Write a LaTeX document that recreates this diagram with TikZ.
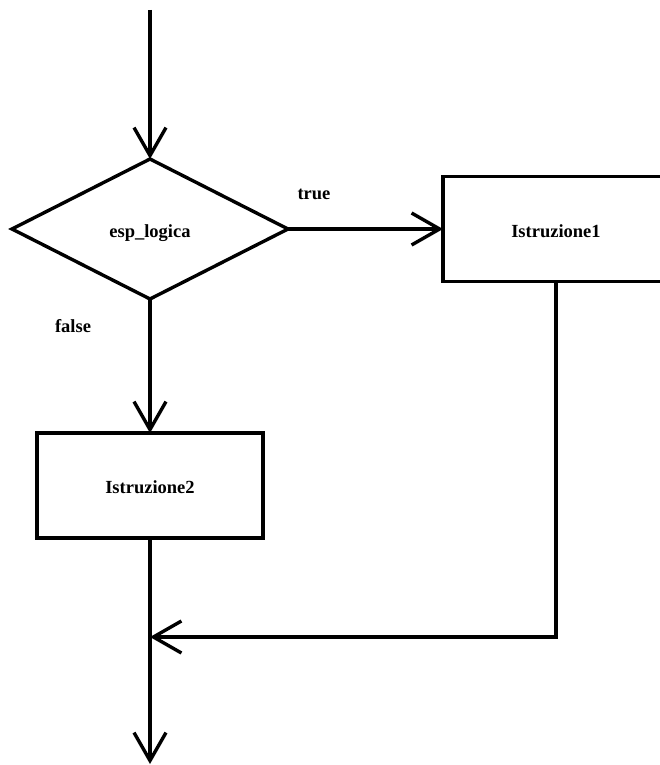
\documentclass[tikz,border=0pt]{standalone}
\usepackage{fontspec}
\setmainfont{Liberation Serif}
\usetikzlibrary{shapes.geometric,arrows.meta}
% sets a node text a little below the node centre without changing its size
\newcommand\lowtext[1]{\raisebox{-8pt}[0pt][0pt]{#1}}
\begin{document}
\begin{tikzpicture}[x=1pt,y=-1pt,
  line width=3.4pt,
  flow/.style={-{Straight Barb[length=28pt,width=32pt,line width=3.4pt]}},
  txt/.style={font=\fontsize{18.5}{21}\selectfont\bfseries},
  decision/.style={draw,diamond,inner sep=0pt,outer sep=0pt,
    minimum width=276pt,minimum height=140pt,txt},
  action/.style={draw,rectangle,inner sep=0pt,outer sep=0pt,
    minimum width=226pt,minimum height=105pt,txt},
  lbl/.style={txt,inner sep=0pt}]
  \useasboundingbox (0,0) rectangle (660,765);

  % decision and the two branches
  \node[decision] (cond) at (150,229) {\lowtext{esp\_logica}};
  \node[action] (then) at (556,229) {\lowtext{Istruzione1}};
  \node[action] (else) at (150,485.5) {\lowtext{Istruzione2}};

  % entry, join and exit points
  \coordinate (entry) at (150,10);
  \coordinate (join) at (150,637);
  \coordinate (exit) at (150,764);

  % connectors
  \draw[flow] (entry) -- (cond.north);
  \draw[flow] (cond.east) -- (then.west);
  \draw[flow] (cond.south) -- (else.north);
  \draw[flow] (then.south) |- (join);
  \draw[flow] (else.south) -- (exit);

  % branch labels
  \node[lbl] (ltrue) at (314,194) {true};
  \node[lbl] (lfalse) at (73,326) {false};
\end{tikzpicture}
\end{document}
